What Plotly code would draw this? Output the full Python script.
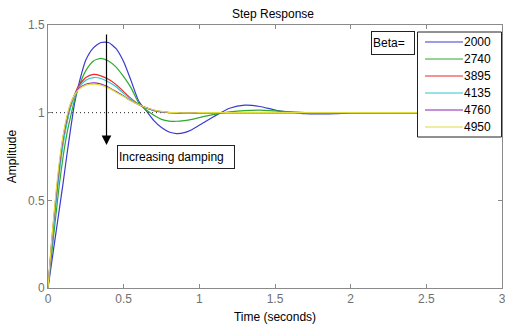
import plotly.graph_objects as go

t = [0, 0.025, 0.05, 0.075, 0.1, 0.125, 0.15, 0.175, 0.2, 0.25, 0.3, 0.35, 0.4, 0.45,
     0.5, 0.55, 0.6, 0.65, 0.7, 0.75, 0.8, 0.85, 0.9, 0.95, 1.0, 1.1, 1.2, 1.3, 1.4,
     1.5, 1.6, 1.7, 1.8, 1.9, 2.0, 2.5, 3.0]

beta_labels = ["2000", "2740", "3895", "4135", "4760", "4950"]

y_2000 = [0, 0.15, 0.30, 0.45, 0.60, 0.76, 0.91, 1.05, 1.15, 1.30, 1.37, 1.40, 1.40, 1.365,
          1.29, 1.18, 1.065, 1.01, 0.955, 0.915, 0.89, 0.881, 0.886, 0.903, 0.928, 0.98, 1.025,
          1.043, 1.035, 1.015, 1.003, 0.994, 0.993, 0.994, 0.998, 1.0, 1.0]
y_2740 = [0, 0.20, 0.40, 0.59, 0.75, 0.88, 0.98, 1.07, 1.14, 1.24, 1.295, 1.31, 1.295, 1.26,
          1.205, 1.14, 1.055, 1.015, 0.985, 0.962, 0.952, 0.951, 0.955, 0.962, 0.972, 0.99, 1.004,
          1.012, 1.014, 1.01, 1.005, 1.001, 0.999, 0.999, 1.0, 1.0, 1.0]
y_3895 = [0, 0.25, 0.48, 0.68, 0.84, 0.95, 1.04, 1.10, 1.15, 1.20, 1.218, 1.21, 1.19, 1.16,
          1.12, 1.08, 1.048, 1.028, 1.012, 1.004, 1.0, 0.998, 0.997, 0.997, 0.998, 0.999, 1.0,
          1.0, 1.0, 1.0, 1.0, 1.0, 1.0, 1.0, 1.0, 1.0, 1.0]
y_4135 = [0, 0.24, 0.46, 0.66, 0.82, 0.94, 1.03, 1.09, 1.14, 1.185, 1.20, 1.195, 1.175, 1.148,
          1.11, 1.075, 1.046, 1.026, 1.012, 1.004, 1.0, 0.998, 0.997, 0.998, 0.999, 1.0, 1.0,
          1.0, 1.0, 1.0, 1.0, 1.0, 1.0, 1.0, 1.0, 1.0, 1.0]
y_4760 = [0, 0.27, 0.50, 0.70, 0.86, 0.97, 1.05, 1.10, 1.135, 1.162, 1.17, 1.163, 1.145, 1.12,
          1.095, 1.068, 1.045, 1.027, 1.014, 1.006, 1.001, 0.999, 0.998, 0.999, 1.0, 1.0, 1.0,
          1.0, 1.0, 1.0, 1.0, 1.0, 1.0, 1.0, 1.0, 1.0, 1.0]
y_4950 = [0, 0.28, 0.52, 0.72, 0.87, 0.98, 1.055, 1.10, 1.13, 1.157, 1.163, 1.157, 1.14, 1.117,
          1.092, 1.066, 1.045, 1.028, 1.015, 1.007, 1.002, 1.0, 0.999, 0.999, 1.0, 1.0, 1.0,
          1.0, 1.0, 1.0, 1.0, 1.0, 1.0, 1.0, 1.0, 1.0, 1.0]

series = [y_2000, y_2740, y_3895, y_4135, y_4760, y_4950]
colors = ["#3a3ad0", "#2eaa2e", "#ee2626", "#30c8c8", "#8a22b8", "#e0dc40"]

x_ticks = [0, 0.5, 1, 1.5, 2, 2.5, 3]
y_ticks = [0, 0.5, 1, 1.5]

FONT = "Liberation Sans, Arial"

# pixel -> paper helpers (plot area: x 48..502, y 25..288)
def px(x):
    return (x - 48) / 454


def py(y):
    return (288 - y) / 263


fig = go.Figure()
for lab, ys, c in zip(beta_labels, series, colors):
    fig.add_trace(go.Scatter(x=t, y=ys, mode="lines", name=lab, showlegend=False,
                             line=dict(color=c, width=1.2, shape="spline", smoothing=0.6)))

fig.add_shape(type="line", xref="x", yref="y", x0=0, x1=3, y0=1, y1=1,
              line=dict(color="#222222", width=1, dash="1px,3px"), layer="below")

# arrow
fig.add_annotation(xref="paper", yref="paper", axref="pixel", ayref="pixel",
                   x=px(106.5), y=py(145), ax=0, ay=-112,
                   text="", showarrow=True, arrowhead=2, arrowsize=1.6, arrowwidth=1.2,
                   arrowcolor="black")

fig.add_annotation(xref="paper", yref="paper", x=px(176), y=py(157),
                   xanchor="center", yanchor="middle",
                   text="Increasing damping", showarrow=False, align="left",
                   width=114, height=20, borderpad=1, bordercolor="#222222", borderwidth=1,
                   bgcolor="white", font=dict(family=FONT, size=12, color="black"))

fig.add_annotation(xref="paper", yref="paper", x=px(392.5), y=py(43),
                   xanchor="center", yanchor="middle",
                   text="Beta=", showarrow=False, align="left",
                   width=40, height=20, borderpad=1, bordercolor="#222222", borderwidth=1,
                   bgcolor="white", font=dict(family=FONT, size=12, color="black"))

# legend drawn by hand to match the original layout
fig.add_shape(type="rect", xref="paper", yref="paper", x0=px(417.5), x1=px(501.5),
              y0=py(137), y1=py(32), line=dict(color="#222222", width=1), fillcolor="white",
              layer="above")
row_y = [42, 59, 76, 93, 110, 127]
for lab, c, ry in zip(beta_labels, colors, row_y):
    fig.add_shape(type="line", xref="paper", yref="paper", x0=px(425), x1=px(463),
                  y0=py(ry), y1=py(ry), line=dict(color=c, width=1.2), layer="above")
    fig.add_annotation(xref="paper", yref="paper", x=px(493), y=py(ry),
                       xanchor="right", yanchor="middle", text=lab, showarrow=False,
                       font=dict(family=FONT, size=12, color="black"))

axis_common = dict(showgrid=False, zeroline=False, showline=True, linecolor="#8a8a8a",
                   linewidth=1, mirror="ticks", ticks="inside", ticklen=4, tickcolor="#8a8a8a",
                   ticklabeloverflow="allow", automargin=False,
                   tickfont=dict(family=FONT, size=12, color="#707070"))

fig.update_layout(
    width=505, height=326,
    margin=dict(l=48, r=3, t=25, b=38, autoexpand=False),
    paper_bgcolor="white", plot_bgcolor="white",
    showlegend=False,
    title=dict(text="Step Response", x=273 / 505, xanchor="center", y=1 - 14 / 326,
               yanchor="middle", font=dict(family=FONT, size=12, color="black")),
    xaxis=dict(range=[0, 3], tickvals=x_ticks, ticktext=[str(v) for v in x_ticks],
               title=dict(text="Time (seconds)", standoff=7,
                          font=dict(family=FONT, size=12, color="black")),
               **axis_common),
    yaxis=dict(range=[0, 1.5], tickvals=y_ticks, ticktext=[str(v) for v in y_ticks],
               title=dict(text="Amplitude", standoff=8,
                          font=dict(family=FONT, size=12, color="black")),
               **axis_common),
)

fig.write_html("out.html")
